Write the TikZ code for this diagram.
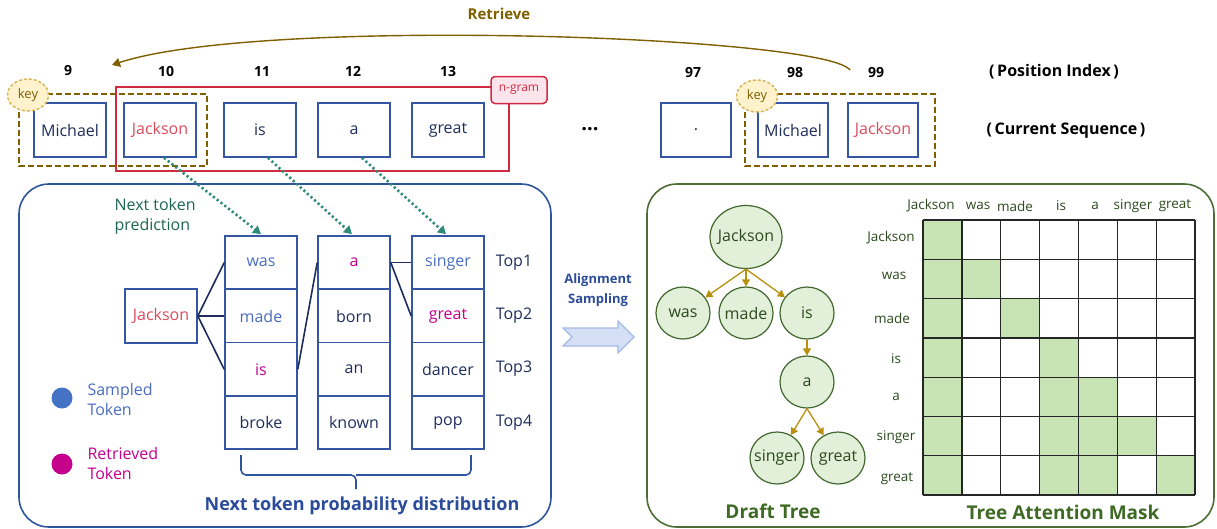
\documentclass[tikz,border=0pt]{standalone}
\usepackage{fontspec}
\setmainfont{Open Sans}
\usetikzlibrary{arrows.meta,shapes.geometric,calc}
\definecolor{boxblue}{HTML}{3456A3}
\definecolor{navy}{HTML}{1F2D5C}
\definecolor{jred}{HTML}{DD4B5B}
\definecolor{ngred}{HTML}{D02B40}
\definecolor{ngfill}{HTML}{FCE4EC}
\definecolor{olivebr}{HTML}{7F6000}
\definecolor{keyfill}{HTML}{FFF2CC}
\definecolor{keyline}{HTML}{D6B656}
\definecolor{tealdot}{HTML}{2E8B7A}
\definecolor{tealtext}{HTML}{1D6650}
\definecolor{sampled}{HTML}{4472C4}
\definecolor{samptext}{HTML}{4A6CC0}
\definecolor{retr}{HTML}{C4008C}
\definecolor{panelblue}{HTML}{2F549E}
\definecolor{titleblue}{HTML}{2B4C9B}
\definecolor{panelgreen}{HTML}{4C6E35}
\definecolor{treefill}{HTML}{E2F0D9}
\definecolor{treeline}{HTML}{42672D}
\definecolor{goldar}{HTML}{B8900C}
\definecolor{cellgreen}{HTML}{C8E3B4}
\definecolor{dgreen}{HTML}{2C4A1E}
\definecolor{titlegreen}{HTML}{3E6A24}
\definecolor{arrfill}{HTML}{D5DFF5}
\definecolor{arrline}{HTML}{A4BAE6}
\newcommand{\zb}[1]{\makebox[0pt][c]{#1}}
\begin{document}
\begin{tikzpicture}[x=1pt,y=-1pt,
  tok/.style={draw=boxblue, line width=1.6pt, minimum width=72pt, minimum height=54pt, inner sep=0pt, text=navy, font=\fontsize{16}{19}\selectfont},
  cell/.style={draw=boxblue, line width=1.6pt, minimum width=72pt, minimum height=53.3pt, inner sep=0pt, text=navy, font=\fontsize{16}{19}\selectfont},
  tnode/.style={ellipse, draw=treeline, fill=treefill, line width=1.2pt, minimum width=54pt, minimum height=52pt, inner sep=0pt, text=dgreen, font=\fontsize{16}{19}\selectfont},
  tarrow/.style={draw=goldar, line width=1.3pt, -{Triangle[width=8pt,length=7pt]}},
  dotarrow/.style={draw=tealdot, line width=2.6pt, dash pattern=on 2.2pt off 2.6pt, -{Triangle[width=9pt,length=8pt]}},
  keybox/.style={draw=olivebr, line width=1.8pt, dash pattern=on 6pt off 3pt},
  keyell/.style={ellipse, draw=keyline, fill=keyfill, dash pattern=on 3pt off 2pt, line width=1.5pt, minimum width=41pt, minimum height=32pt, inner sep=0pt, text=olivebr, font=\fontsize{13}{15}\selectfont},
  posnum/.style={font=\bfseries\fontsize{14}{17}\selectfont, text=black},
  glab/.style={font=\fontsize{13.5}{16}\selectfont, text=dgreen},
  link/.style={draw=navy, line width=1.6pt},
]
\useasboundingbox (0,0) rectangle (1217,528);

% ---------- panels ----------
\draw[draw=panelblue, line width=1.6pt, rounded corners=30pt] (19,184) rectangle (551,527);
\draw[draw=panelgreen, line width=1.6pt, rounded corners=30pt] (647,184) rectangle (1214,527);

% ---------- retrieve arc ----------
\node[font=\bfseries\fontsize{15}{18}\selectfont, text=olivebr] (retlab) at (499,14) {Retrieve};
\coordinate (retS) at (850,70);
\coordinate (retE) at (112,65);
\draw[draw=olivebr, line width=1.4pt, -{Triangle[width=9pt,length=8pt]}] (retS) .. controls (825,36) and (260,16) .. (retE);

% ---------- position indices ----------
\node[posnum] (p9) at (68,71) {9};
\node[posnum] (p10) at (166,71) {10};
\node[posnum] (p11) at (262,71) {11};
\node[posnum] (p12) at (353,71) {12};
\node[posnum] (p13) at (448,71) {13};
\node[posnum] (p97) at (693,73) {97};
\node[posnum] (p98) at (795,73) {98};
\node[posnum] (p99) at (876,73) {99};
\node[font=\bfseries\fontsize{16}{19}\selectfont] (posidx) at (1054,72) {(\,Position Index\,)};
\node[font=\bfseries\fontsize{16}{19}\selectfont] (curseq) at (1066,131) {(\,Current Sequence\,)};

% ---------- n-gram and key boxes ----------
\draw[draw=ngred, line width=1.6pt] (116,87) rectangle (509,171);
\draw[keybox] (19,94) rectangle (207,166);
\draw[keybox] (745,94) rectangle (935,166);

% ---------- top sequence ----------
\node[tok] (t9) at (70,130) {Michael};
\node[tok, text=jred] (t10) at (160,130) {Jackson};
\node[tok] (t11) at (260,130) {is};
\node[tok] (t12) at (354,130) {a};
\node[tok] (t13) at (448,130) {great};
\node[font=\bfseries\fontsize{20}{22}\selectfont] (dots) at (590,129) {...};
\node[tok, minimum width=70pt] (t97) at (696,130) {.};
\node[tok, minimum width=70pt] (t98) at (793,130) {Michael};
\node[tok, minimum width=70pt, text=jred] (t99) at (883,130) {Jackson};

\node[keyell] (key1) at (28,95) {key};
\node[keyell] (key2) at (757,96) {key};
\node[draw=ngred, fill=ngfill, line width=1.5pt, rounded corners=4pt, minimum width=56pt, minimum height=27pt, inner sep=0pt, text=ngred, font=\fontsize{12}{14}\selectfont] (ngram) at (519,90) {n-gram};

% ---------- left panel ----------
\node[align=left, anchor=west, text=tealtext, font=\fontsize{16}{20}\selectfont] (ntp) at (111,216) {Next token\\prediction};

\node[tok, text=jred, minimum height=54pt] (jk) at (161,316) {Jackson};

\node[cell, text=samptext] (c11) at (261,262.6) {was};
\node[cell, text=samptext] (c12) at (261,316) {made};
\node[cell, text=retr] (c13) at (261,369.3) {is};
\node[cell] (c14) at (261,422.6) {broke};
\node[cell, text=retr] (c21) at (354,262.6) {a};
\node[cell] (c22) at (354,316) {born};
\node[cell] (c23) at (354,369.3) {an};
\node[cell] (c24) at (354,422.6) {known};
\node[cell, text=samptext] (c31) at (448,262.6) {singer};
\node[cell, text=retr] (c32) at (448,316) {great};
\node[cell] (c33) at (448,369.3) {dancer};
\node[cell] (c34) at (448,422.6) {pop};

\node[font=\fontsize{16}{19}\selectfont, text=navy] (top1) at (514,263) {Top1};
\node[font=\fontsize{16}{19}\selectfont, text=navy] (top2) at (514,316) {Top2};
\node[font=\fontsize{16}{19}\selectfont, text=navy] (top3) at (514,369) {Top3};
\node[font=\fontsize{16}{19}\selectfont, text=navy] (top4) at (514,423) {Top4};

\draw[link] (jk.east) -- (c11.west);
\draw[link] (jk.east) -- (c12.west);
\draw[link] (jk.east) -- (c13.west);
\draw[link] (c13.east) -- (c21.west);
\draw[link] (c21.east) -- (c31.west);
\draw[link] (c21.east) -- (c32.west);

\draw[dotarrow] ($(t10.south)+(4,0)$) -- ($(c11.north)+(0,-1)$);
\draw[dotarrow] ($(t11.south)+(8,0)$) -- ($(c21.north)+(-2,-1)$);
\draw[dotarrow] ($(t12.south)+(8,0)$) -- ($(c31.north)+(-2,-1)$);

% brace
\coordinate (brL) at (241,455);
\coordinate (brR) at (471,455);
\coordinate (brT) at (356,489);
\draw[draw=panelblue, line width=1.6pt, rounded corners=5pt] (brL) |- (356,475) -- (brT);
\draw[draw=panelblue, line width=1.6pt, rounded corners=5pt] (brR) |- (356,475);
\node[font=\bfseries\fontsize{18}{21}\selectfont, text=titleblue] (ntpd) at (362,506) {Next token probability distribution};

% legend
\node[circle, fill=sampled, minimum size=21pt, inner sep=0pt] (legS) at (62,398) {};
\node[circle, fill=retr, minimum size=21pt, inner sep=0pt] (legR) at (62,464) {};
\node[align=left, anchor=west, text=samptext, font=\fontsize{16}{20}\selectfont] (legSt) at (84,399) {Sampled\\Token};
\node[align=left, anchor=west, text=retr, font=\fontsize{16}{20}\selectfont] (legRt) at (84,463) {Retrieved\\Token};

% ---------- alignment sampling ----------
\node[align=center, text=titleblue, font=\bfseries\fontsize{13}{20}\selectfont] (alsamp) at (598,290) {Alignment\\Sampling};
\draw[draw=arrline, fill=arrfill, line width=1.2pt] (563,328) -- (618,328) -- (618,321) -- (634,337) -- (618,353) -- (618,346) -- (563,346) -- (572,337) -- cycle;

% ---------- draft tree ----------
\node[tnode, minimum width=72pt, minimum height=63pt] (tJ) at (746,237) {\zb{Jackson}};
\node[tnode] (tW) at (683,313) {\zb{was}};
\node[tnode] (tM) at (746,313) {\zb{made}};
\node[tnode] (tI) at (807,313) {\zb{is}};
\node[tnode] (tA) at (807,382) {\zb{a}};
\node[tnode] (tS) at (777,458) {\zb{singer}};
\node[tnode] (tG) at (838,458) {\zb{great}};
\draw[tarrow] (tJ.south) -- (tW);
\draw[tarrow] (tJ.south) -- (tM);
\draw[tarrow] (tJ.south) -- (tI);
\draw[tarrow] (tI) -- (tA);
\draw[tarrow] (tA.south) -- (tS);
\draw[tarrow] (tA.south) -- (tG);
\node[font=\bfseries\fontsize{19}{22}\selectfont, text=titlegreen] (dtree) at (773,511) {Draft Tree};

% ---------- attention mask ----------
\foreach \r/\c in {0/0,1/0,1/1,2/0,2/2,3/0,3/3,4/0,4/3,4/4,5/0,5/3,5/4,5/5,6/0,6/3,6/4,6/6}
  \fill[cellgreen] (923+\c*38.857,220+\r*39.286) rectangle (923+\c*38.857+38.857,220+\r*39.286+39.286);
\foreach \i in {0,...,7} {
  \draw[line width=1.3pt, draw=black!85] (923+\i*38.857,220) -- (923+\i*38.857,495);
  \draw[line width=1.3pt, draw=black!85] (923,220+\i*39.286) -- (1195,220+\i*39.286);
}
\node[glab] (cJ) at (931,206) {Jackson};
\node[glab] (cW) at (978,206) {was};
\node[glab] (cM) at (1015,206) {made};
\node[glab] (cI) at (1061,206) {is};
\node[glab] (cA) at (1095,206) {a};
\node[glab] (cS) at (1133,206) {singer};
\node[glab] (cG) at (1175,206) {great};
\node[glab] (rJ) at (891,238) {Jackson};
\node[glab] (rW) at (894,276) {was};
\node[glab] (rM) at (892,318) {made};
\node[glab] (rI) at (896,359) {is};
\node[glab] (rA) at (896,397) {a};
\node[glab] (rS) at (896,437) {singer};
\node[glab] (rG) at (897,479) {great};
\node[font=\bfseries\fontsize{19}{22}\selectfont, text=titlegreen] (tamask) at (1063,512) {Tree Attention Mask};
\end{tikzpicture}
\end{document}
